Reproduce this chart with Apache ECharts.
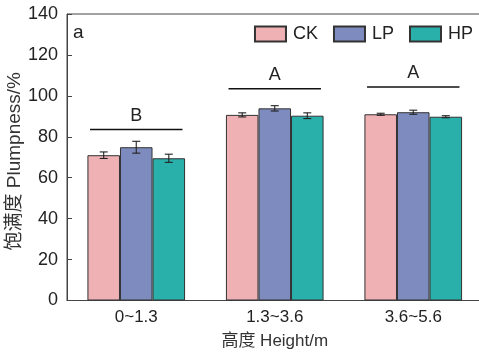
<!DOCTYPE html>
<html>
<head>
<meta charset="utf-8">
<script src="https://cdn.jsdelivr.net/npm/echarts@6/dist/echarts.min.js"></script>
<style>html,body{margin:0;padding:0;background:#fff}#c{width:479px;height:354px}</style>
</head>
<body>
<div id="c"></div>
<script>
// Plumpness by height class under three treatments
const categories = ['0~1.3', '1.3~3.6', '3.6~5.6'];
const seriesNames = ['CK', 'LP', 'HP'];
const ckMean = [71.0, 90.7, 91.0];
const lpMean = [74.9, 93.9, 92.0];
const hpMean = [69.5, 90.3, 89.8];
const ckErr = [1.6, 1.0, 0.5];
const lpErr = [2.9, 1.3, 1.0];
const hpErr = [2.0, 1.4, 0.5];
// significance groups: bracket height and letter per height class
const sigLevel = [83.5, 103.5, 104.3];
const sigLetter = ['B', 'A', 'A'];
const yTicks = [0, 20, 40, 60, 80, 100, 120, 140];

const colors = ['#F0B1B5', '#7E8BBF', '#2AB0AB'];
const means = [ckMean, lpMean, hpMean];
const errs = [ckErr, lpErr, hpErr];
const BAR_FRAC = 0.235;
const FONT = '"Liberation Sans", Arial, "Noto Sans CJK SC", sans-serif';

const chart = echarts.init(document.getElementById('c'));

const series = [];
seriesNames.forEach((name, i) => {
  series.push({
    name: name,
    type: 'bar',
    data: means[i],
    barWidth: (BAR_FRAC * 100) + '%',
    barGap: '0%',
    itemStyle: { color: colors[i], borderColor: '#333', borderWidth: 1 },
    emphasis: { disabled: true },
    z: 2
  });
});
// error bars
seriesNames.forEach((name, i) => {
  series.push({
    type: 'custom',
    data: means[i].map((m, k) => [k, m - errs[i][k], m + errs[i][k]]),
    encode: { x: 0, y: [1, 2] },
    z: 5,
    silent: true,
    renderItem: function (params, api) {
      const k = api.value(0);
      const band = api.size([1, 0])[0];
      const dx = (i - 1) * band * BAR_FRAC;
      const lo = api.coord([k, api.value(1)]);
      const hi = api.coord([k, api.value(2)]);
      const x = lo[0] + dx;
      const cap = 4;
      const st = { stroke: '#222', lineWidth: 1.1, fill: null };
      return {
        type: 'group',
        children: [
          { type: 'line', shape: { x1: x, y1: lo[1], x2: x, y2: hi[1] }, style: st },
          { type: 'line', shape: { x1: x - cap, y1: lo[1], x2: x + cap, y2: lo[1] }, style: st },
          { type: 'line', shape: { x1: x - cap, y1: hi[1], x2: x + cap, y2: hi[1] }, style: st }
        ]
      };
    }
  });
});
// significance brackets and letters
series.push({
  type: 'custom',
  data: sigLevel.map((v, k) => [k, v, sigLetter[k]]),
  encode: { x: 0, y: 1 },
  z: 5,
  silent: true,
  renderItem: function (params, api) {
    const k = api.value(0);
    const band = api.size([1, 0])[0];
    const half = band * BAR_FRAC * 1.42;
    const p = api.coord([k, api.value(1)]);
    return {
      type: 'group',
      children: [
        { type: 'line', shape: { x1: p[0] - half, y1: p[1], x2: p[0] + half, y2: p[1] },
          style: { stroke: '#111', lineWidth: 1.5 } },
        { type: 'text', x: p[0], y: p[1] - 5,
          style: { text: sigLetter[params.dataIndex], fill: '#222', font: '18px ' + FONT,
                   textAlign: 'center', textVerticalAlign: 'bottom' } }
      ]
    };
  }
});

chart.setOption({
  animation: false,
  textStyle: { fontFamily: FONT },
  grid: {
    left: 67, width: 415.5, top: 14, bottom: 53.5,
    outerBoundsMode: 'none', containLabel: false,
    show: true, borderColor: '#444', borderWidth: 1
  },
  legend: {
    data: seriesNames,
    right: 1, top: 20,
    icon: 'rect',
    itemWidth: 31, itemHeight: 15, itemGap: 15,
    textStyle: { fontSize: 18, color: '#222', fontFamily: FONT, padding: [0, 0, 0, 2] }
  },
  graphic: [{
    type: 'text', left: 73, top: 23,
    style: { text: 'a', fill: '#222', font: '19px ' + FONT }
  }],
  xAxis: {
    type: 'category',
    data: categories,
    axisTick: { show: false },
    axisLine: { lineStyle: { color: '#444', width: 1 } },
    axisLabel: { fontSize: 17, color: '#222', margin: 8, fontFamily: FONT },
    name: '高度 Height/m',
    nameLocation: 'middle',
    nameMoveOverlap: false,
    nameGap: 32,
    nameTextStyle: { fontSize: 17, color: '#333', fontFamily: FONT }
  },
  yAxis: {
    type: 'value',
    min: yTicks[0], max: yTicks[yTicks.length - 1], interval: 20,
    splitLine: { show: false },
    axisLine: { show: true, lineStyle: { color: '#444', width: 1 } },
    axisTick: { show: true, inside: true, length: 5, lineStyle: { color: '#444' } },
    axisLabel: { fontSize: 18, color: '#222', margin: 9, fontFamily: FONT },
    name: '饱满度 Plumpness/%',
    nameLocation: 'middle',
    nameMoveOverlap: false,
    nameGap: 43,
    nameTextStyle: { fontSize: 19, color: '#333', fontFamily: FONT, padding: [0, 8, 0, 0] }
  },
  series: series
});
</script>
</body>
</html>
